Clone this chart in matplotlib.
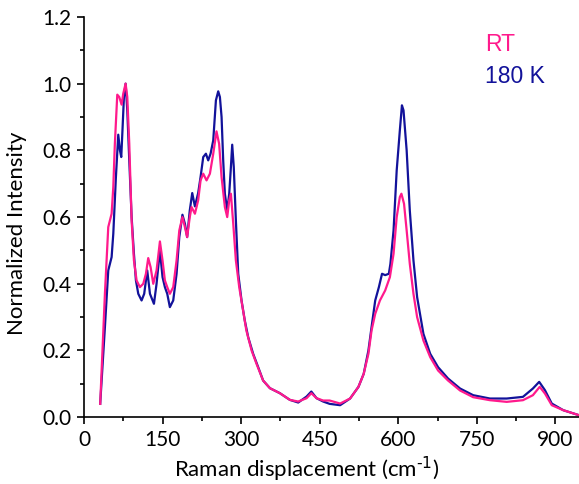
import numpy as np
import matplotlib
matplotlib.use('Agg')
import matplotlib.pyplot as plt
from matplotlib.ticker import MultipleLocator

# Raman spectra (shift in cm-1, normalized intensity)
x_rt = [31, 40, 46.4, 52.8, 56, 59, 63.6, 67.4, 71.9, 75, 79.5, 82.7, 86.5, 91, 95.4,
        100.5, 106.8, 113.2, 118.3, 122.7, 127.2, 132.3, 138.6, 145, 150, 154.5, 159,
        164, 170.4, 176.8, 182, 188, 192.7, 197, 202, 205.4, 211.8, 218, 222.6, 227.7,
        234, 240.4, 246.8, 253, 258, 262.7, 269, 273.5, 277.3, 280.5, 285, 290, 296.4,
        302.7, 310, 320, 329.4, 342, 355, 374, 393, 409, 425, 434, 444, 456.6, 469,
        489, 508, 524, 534, 543, 549, 556, 565, 575, 584, 591, 597, 603, 606, 611, 616,
        622, 629, 636, 648, 661, 676, 695, 718, 743, 775, 807, 838, 857, 870, 880, 893,
        915, 945]
y_rt = [0.04, 0.37, 0.57, 0.61, 0.69, 0.82, 0.967, 0.96, 0.937, 0.97, 1.0, 0.96, 0.82,
        0.59, 0.47, 0.41, 0.39, 0.40, 0.43, 0.477, 0.45, 0.40, 0.44, 0.527, 0.47, 0.41,
        0.39, 0.37, 0.39, 0.47, 0.56, 0.60, 0.57, 0.54, 0.60, 0.63, 0.61, 0.65, 0.71,
        0.73, 0.71, 0.73, 0.79, 0.857, 0.82, 0.72, 0.63, 0.60, 0.65, 0.67, 0.58, 0.47,
        0.39, 0.33, 0.26, 0.20, 0.16, 0.11, 0.087, 0.072, 0.052, 0.047, 0.057, 0.072,
        0.057, 0.05, 0.05, 0.041, 0.056, 0.091, 0.13, 0.19, 0.26, 0.31, 0.35, 0.38,
        0.42, 0.49, 0.60, 0.66, 0.67, 0.64, 0.56, 0.46, 0.37, 0.30, 0.23, 0.18, 0.14,
        0.11, 0.08, 0.06, 0.051, 0.046, 0.051, 0.066, 0.091, 0.071, 0.036, 0.021, 0.006]

x_180 = [31, 40, 46.4, 52.8, 56, 61, 65.5, 68.7, 71.2, 73.8, 76.3, 79.5, 82.7, 86.5, 91,
         95.4, 99.2, 103.7, 110, 115, 120.8, 126, 133.6, 138.6, 145, 150, 154.5, 159,
         164, 170.4, 176.8, 182, 188, 192.7, 197, 202, 206.7, 211.8, 218, 222.6, 227.7,
         232.8, 237.2, 241.7, 246.8, 251.9, 256.3, 259.5, 262.7, 265.8, 269, 273.5,
         277.3, 280.5, 283, 286, 290, 294.5, 300.8, 307, 313.5, 323, 332.6, 342, 355,
         374, 393, 409, 425, 434, 444, 456.6, 469, 489, 508, 524, 534, 543, 549, 556,
         563, 569, 575, 582, 585, 591, 597, 603, 607, 610, 613, 616, 622, 629, 636, 648,
         661, 676, 695, 718, 743, 775, 807, 838, 857, 869, 880, 893, 915, 945]
y_180 = [0.04, 0.27, 0.44, 0.48, 0.55, 0.72, 0.847, 0.80, 0.78, 0.87, 0.96, 1.0, 0.92,
         0.77, 0.60, 0.49, 0.41, 0.37, 0.35, 0.37, 0.44, 0.37, 0.34, 0.40, 0.50, 0.42,
         0.39, 0.37, 0.33, 0.35, 0.43, 0.54, 0.607, 0.58, 0.54, 0.62, 0.672, 0.632,
         0.672, 0.72, 0.78, 0.79, 0.77, 0.79, 0.83, 0.95, 0.977, 0.96, 0.90, 0.77, 0.67,
         0.62, 0.67, 0.75, 0.817, 0.75, 0.59, 0.43, 0.35, 0.29, 0.24, 0.19, 0.15, 0.11,
         0.087, 0.072, 0.052, 0.044, 0.062, 0.077, 0.057, 0.047, 0.04, 0.036, 0.056,
         0.091, 0.13, 0.20, 0.27, 0.35, 0.39, 0.43, 0.426, 0.43, 0.46, 0.56, 0.74, 0.86,
         0.935, 0.92, 0.86, 0.80, 0.62, 0.47, 0.36, 0.25, 0.19, 0.15, 0.116, 0.086,
         0.066, 0.056, 0.056, 0.061, 0.086, 0.106, 0.081, 0.041, 0.021, 0.006]

pink = '#ff1a8c'
navy = '#12129a'

plt.rcParams['font.family'] = ['Lato', 'DejaVu Sans']

fig = plt.figure(figsize=(5.79, 4.84), dpi=100)
ax = fig.add_axes([0.145, 0.138, 0.855, 0.827])

ax.plot(x_180, y_180, color=navy, lw=1.6)
ax.plot(x_rt, y_rt, color=pink, lw=1.6)

ax.set_xlim(0, 945)
ax.set_ylim(0, 1.2)
ax.xaxis.set_major_locator(MultipleLocator(150))
ax.xaxis.set_minor_locator(MultipleLocator(75))
ax.yaxis.set_major_locator(MultipleLocator(0.2))
ax.yaxis.set_minor_locator(MultipleLocator(0.1))
ax.yaxis.set_major_formatter(plt.FormatStrFormatter('%.1f'))
for s in ['top', 'right']:
    ax.spines[s].set_visible(False)
for s in ['left', 'bottom']:
    ax.spines[s].set_linewidth(1.2)
ax.tick_params(which='major', direction='out', length=5, width=1.2, labelsize=15, pad=4)
ax.tick_params(which='minor', direction='out', length=3, width=1.2)

ax.set_xlabel('Raman displacement (cm$^{\\text{-1}}$)', fontsize=16)
ax.set_ylabel('Normalized Intensity', fontsize=16)
ax.xaxis.set_label_coords(0.45, -0.095)
ax.yaxis.set_label_coords(-0.115, 0.46)

ax.text(0.81, 0.93, 'RT', transform=ax.transAxes, color=pink, fontsize=16.5,
        family='Liberation Sans', va='center')
ax.text(0.81, 0.85, '180 K', transform=ax.transAxes, color=navy, fontsize=16.5,
        family='Liberation Sans', va='center')

fig.savefig('out.png', dpi=100)
